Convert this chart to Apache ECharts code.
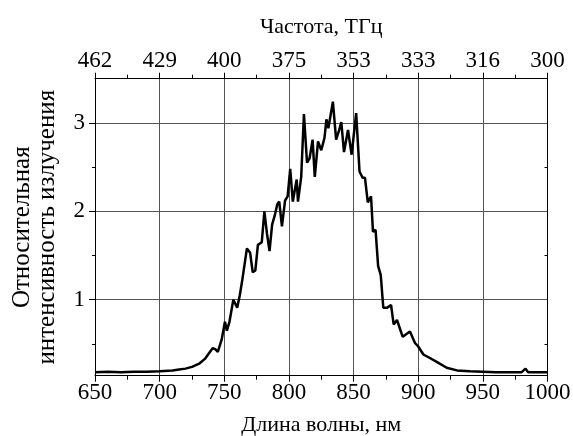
<!DOCTYPE html>
<html>
<head>
<meta charset="utf-8">
<script src="https://cdn.jsdelivr.net/npm/echarts@6/dist/echarts.min.js"></script>
<style>
    html, body {margin: 0; padding: 0; background: #fff;}
    #chart {width: 573px; height: 436px;}
</style>
</head>
<body>
<div id="chart"></div>
<script>
// длина волны, нм
var wavelength = [650, 660, 670, 680, 690, 700, 710, 715, 720, 725, 731, 735, 739, 741, 743, 745, 748, 750.5, 752, 754,
    757, 760, 762, 764, 765.5, 767.5, 770, 772, 774, 776, 779, 781, 783, 785, 787, 789, 791, 792.5, 794.6, 797,
    799, 801, 803, 806, 807, 809.5, 811.6, 814, 816, 818.3, 820, 822.5, 825, 827.5, 829, 830.5, 834, 836.5, 838.5, 840.5,
    842.6, 845.7, 848.5, 850, 852, 854.6, 857, 858.8, 861, 863.5, 865, 867, 869, 871, 873, 876, 879, 881, 883.6, 888,
    893.6, 897.5, 900, 904, 909, 915, 922, 930, 940, 950, 960, 970, 980, 983, 985, 990, 1000];
// относительная интенсивность
var intensity = [0.18, 0.185, 0.18, 0.185, 0.185, 0.19, 0.2, 0.21, 0.22, 0.24, 0.28, 0.33, 0.41, 0.45, 0.44, 0.41, 0.55, 0.75, 0.65, 0.75,
    1.0, 0.91, 1.05, 1.23, 1.25, 1.58, 1.53, 1.31, 1.33, 1.62, 1.65, 2.0, 1.75, 1.55, 1.85, 1.95, 2.08, 2.11, 1.83, 2.12,
    2.17, 2.48, 2.11, 2.36, 2.11, 2.39, 3.1, 2.55, 2.6, 2.81, 2.39, 2.79, 2.69, 2.83, 3.04, 2.94, 3.24, 2.81, 2.9, 3.01,
    2.67, 2.92, 2.64, 2.66, 3.11, 2.45, 2.38, 2.38, 2.1, 2.17, 1.77, 1.79, 1.38, 1.28, 0.91, 0.91, 0.94, 0.72, 0.77, 0.58,
    0.64, 0.51, 0.47, 0.38, 0.34, 0.29, 0.23, 0.2, 0.19, 0.185, 0.18, 0.18, 0.18, 0.22, 0.18, 0.18, 0.18];
// подписи верхней оси (частота, ТГц)
var freqLabels = ['462', '429', '400', '375', '353', '333', '316', '300'];
var yLabels = [1, 2, 3];
var yMinorTicks = [0.5, 1.5, 2.5];

var font = 'Liberation Serif';

var points = [];
for (var i = 0; i < wavelength.length; i++) {
    points.push([wavelength[i], intensity[i]]);
}

var chart = echarts.init(document.getElementById('chart'));

function xAxisBase(pos) {
    return {
        type: 'value',
        position: pos,
        min: 650,
        max: 1000,
        interval: 50,
        axisLine: {lineStyle: {color: '#000', width: 1}},
        axisTick: {show: true, inside: false, length: 6, lineStyle: {color: '#000'}},
        minorTick: {show: true, splitNumber: 2, length: 4, lineStyle: {color: '#000'}},
        splitLine: {show: true, lineStyle: {color: '#555', width: 1}},
        axisLabel: {
            color: '#000', fontFamily: font, fontSize: 23, margin: 6,
            formatter: function (v) {
                return String(v);
            }
        },
        nameLocation: 'middle',
        nameTextStyle: {color: '#000', fontFamily: font, fontSize: 22}
    };
}

var bottomAxis = xAxisBase('bottom');
bottomAxis.name = 'Длина волны, нм';
bottomAxis.nameGap = 39;

var topAxis = xAxisBase('top');
topAxis.name = 'Частота, ТГц';
topAxis.nameGap = 40;
topAxis.splitLine = {show: false};
topAxis.axisLabel.formatter = function (v) {
    return freqLabels[Math.round((v - 650) / 50)];
};

chart.setOption({
    animation: false,
    backgroundColor: '#fff',
    grid: {left: 95, right: 25.5, top: 78.7, bottom: 60.3, outerBoundsMode: 'none', containLabel: false},
    xAxis: [bottomAxis, topAxis],
    yAxis: [
        {
            type: 'value',
            position: 'left',
            min: 0.14,
            max: 3.5,
            name: 'Относительная\nинтенсивность излучения',
            nameLocation: 'middle',
            nameGap: 35,
            nameTextStyle: {color: '#000', fontFamily: font, fontSize: 25, lineHeight: 25},
            axisLine: {show: true, lineStyle: {color: '#000'}},
            axisTick: {show: true, length: 6, customValues: yLabels, lineStyle: {color: '#000'}},
            axisLabel: {color: '#000', fontFamily: font, fontSize: 23, margin: 10, customValues: yLabels},
            splitLine: {show: true, lineStyle: {color: '#555', width: 1}}
        },
        {
            // мелкие деления слева
            type: 'value',
            position: 'left',
            min: 0.14,
            max: 3.5,
            axisLine: {show: false},
            axisTick: {show: true, length: 3, customValues: yMinorTicks, lineStyle: {color: '#000'}},
            axisLabel: {show: false},
            splitLine: {show: false}
        },
        {
            // правая рамка
            type: 'value',
            position: 'right',
            min: 0.14,
            max: 3.5,
            axisLine: {show: true, lineStyle: {color: '#000'}},
            axisTick: {show: true, inside: true, length: 3, customValues: yMinorTicks, lineStyle: {color: '#000'}},
            axisLabel: {show: false},
            splitLine: {show: false}
        }
    ],
    series: [{
        type: 'line',
        xAxisIndex: 0,
        yAxisIndex: 0,
        data: points,
        showSymbol: false,
        smooth: false,
        lineStyle: {color: '#000', width: 2.5},
        z: 5
    }]
});
</script>
</body>
</html>
